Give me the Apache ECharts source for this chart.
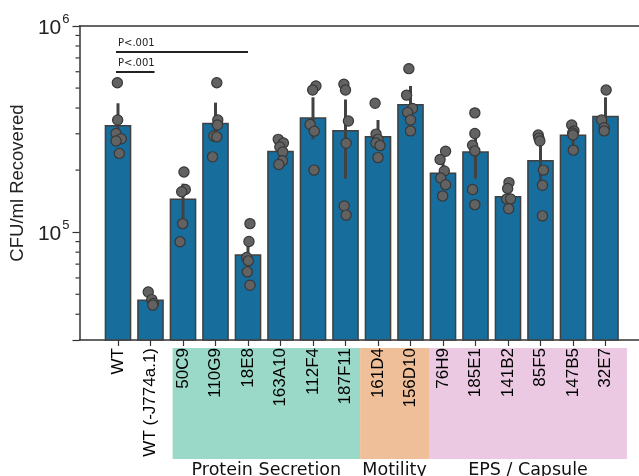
<!DOCTYPE html>
<html><head><meta charset="utf-8">
<script src="https://cdn.jsdelivr.net/npm/echarts@6/dist/echarts.min.js"></script>
<style>html,body{margin:0;padding:0;background:#fff}#c{width:639px;height:476px}</style>
</head><body><div id="c"></div>
<script>
// ---------------- data ----------------
const categories = ['WT','WT (-J774a.1)','50C9','110G9','18E8','163A10','112F4','187F11','161D4','156D10','76H9','185E1','141B2','85F5','147B5','32E7'];
const barMeans = [3.31e5,4.71e4,1.457e5,3.39e5,7.81e4,2.48e5,3.61e5,3.13e5,2.93e5,4.18e5,1.95e5,2.47e5,1.50e5,2.24e5,2.98e5,3.67e5];
const ciLow  = [2.80e5,4.50e4,1.10e5,2.74e5,6.60e4,2.30e5,2.82e5,1.82e5,2.55e5,3.63e5,1.79e5,1.82e5,1.38e5,1.72e5,2.60e5,3.25e5];
const ciHigh = [4.22e5,4.95e4,1.72e5,4.25e5,9.32e4,2.68e5,4.51e5,4.40e5,3.50e5,5.12e5,2.32e5,3.07e5,1.66e5,2.80e5,3.25e5,4.51e5];
const points = [
  [5.31e5,3.50e5,3.01e5,2.84e5,2.77e5,2.41e5],
  [5.13e4,4.71e4,4.51e4,4.43e4],
  [1.96e5,1.61e5,1.57e5,1.10e5,8.98e4],
  [5.31e5,3.50e5,3.31e5,2.93e5,2.90e5,2.32e5],
  [1.10e5,9.01e4,7.54e4,7.26e4,6.42e4,5.53e4],
  [2.82e5,2.71e5,2.59e5,2.45e5,2.22e5,2.13e5],
  [5.12e5,4.89e5,3.33e5,3.09e5,2.00e5],
  [5.22e5,4.89e5,3.46e5,2.70e5,1.34e5,1.21e5],
  [4.22e5,2.99e5,2.82e5,2.71e5,2.63e5,2.30e5],
  [6.21e5,4.62e5,3.98e5,3.81e5,3.50e5,3.10e5],
  [2.47e5,2.25e5,1.98e5,1.83e5,1.70e5,1.50e5],
  [3.79e5,3.01e5,2.64e5,2.48e5,1.61e5,1.36e5],
  [1.74e5,1.63e5,1.45e5,1.45e5,1.30e5],
  [2.96e5,2.86e5,2.77e5,2.00e5,1.69e5,1.20e5],
  [3.31e5,3.10e5,3.03e5,2.96e5,2.50e5],
  [4.89e5,3.50e5,3.21e5,3.10e5]
];
// strip-plot jitter (in category widths)
const jitter = [
  [-0.02,-0.01,-0.06,0.10,-0.06,0.04],
  [-0.07,0.04,0.09,0.07],
  [0.03,0.07,-0.04,-0.01,-0.09],
  [0.04,0.07,0.06,-0.05,0.04,-0.09],
  [0.06,0.03,-0.04,0.01,-0.02,0.06],
  [-0.07,0.09,-0.02,0.07,0.06,-0.05],
  [0.09,-0.01,-0.09,0.04,0.03],
  [-0.05,0.00,0.09,0.02,-0.04,0.02],
  [-0.09,-0.06,0.00,-0.06,0.06,0.00],
  [-0.05,-0.12,0.06,-0.09,0.00,0.00],
  [0.08,-0.09,0.04,-0.07,0.08,-0.01],
  [-0.02,-0.02,-0.09,-0.02,-0.09,-0.02],
  [0.03,-0.01,-0.04,0.08,0.02],
  [-0.07,-0.05,-0.02,0.09,0.06,0.06],
  [-0.04,0.03,-0.01,0.00,0.01],
  [0.02,-0.12,-0.04,-0.04]
];
const groupNames = ['Protein Secretion','Motility','EPS / Capsule'];
const groupFirst = [2, 8, 10];
const groupLast  = [7, 9, 15];
const sigLabels = ['P<.001','P<.001'];
const sigFrom = [0, 0];
const sigTo = [4, 1];
const sigLevel = [7.48e5, 5.98e5];
const yMajorTicks = [1e5, 1e6];
const yMinorTicks = [4e4,5e4,6e4,7e4,8e4,9e4,2e5,3e5,4e5,5e5,6e5,7e5,8e5,9e5];
const yMin = 3e4, yMax = 1e6;

// ---------------- style ----------------
const groupColors = ['#9ad8c7','#eebf99','#ebc9e2'];
const groupEdges = [[-0.32,0.45],[-0.55,0.57],[-0.43,0.66]];
const dark = '#404040';

const chart = echarts.init(document.getElementById('c'));

function xOf(api, pos) {
  const bw = api.size([1, 1], [0, 1e5])[0];
  const x0 = api.coord([0, 1e5])[0];
  return x0 + pos * bw;
}

const option = {
  animation: false,
  grid: [
    {left: 79, right: 0, top: 26, bottom: 136},
    {left: 101.75, right: 17.25, top: 26, bottom: 136}
  ],
  xAxis: [
    {gridIndex: 0, type: 'value', min: 0, max: 1, position: 'bottom',
     axisLine: {show: true, lineStyle: {color: '#333', width: 1.5}}, axisTick: {show: false},
     axisLabel: {show: false}, splitLine: {show: false}},
    {gridIndex: 0, type: 'value', min: 0, max: 1, position: 'top',
     axisLine: {show: true, lineStyle: {color: '#333', width: 1.5}}, axisTick: {show: false},
     axisLabel: {show: false}, splitLine: {show: false}},
    {gridIndex: 1, type: 'category', data: categories, position: 'bottom',
     axisLine: {show: false},
     axisTick: {show: true, alignWithLabel: true, length: 6, lineStyle: {color: '#333', width: 1.2}},
     axisLabel: {interval: 0, rotate: 90, margin: 8, fontSize: 17, color: '#000', fontFamily: 'Liberation Sans'},
     splitLine: {show: false}}
  ],
  yAxis: [
    {gridIndex: 0, type: 'log', logBase: 10, min: yMin, max: yMax,
     name: 'CFU/ml Recovered', nameLocation: 'middle', nameGap: 51,
     nameTextStyle: {fontSize: 18.5, color: '#222', fontFamily: 'Liberation Sans'},
     axisLine: {show: true, lineStyle: {color: '#333', width: 1.5}},
     axisTick: {show: true, length: 7, lineStyle: {color: '#333', width: 1.2}},
     splitLine: {show: false}, minorTick: {show: false},
     axisLabel: {
       margin: 10,
       formatter: function (v) {
         for (const t of yMajorTicks) {
           if (Math.abs(v - t) / t < 1e-6) return '{b|10}{s|' + Math.round(Math.log10(t)) + '}';
         }
         return '';
       },
       rich: {
         b: {fontSize: 21, fontFamily: 'Liberation Sans', color: '#222', lineHeight: 26, verticalAlign: 'bottom'},
         s: {fontSize: 13, fontFamily: 'Liberation Sans', color: '#222', lineHeight: 26, verticalAlign: 'top', padding: [0, 0, 0, 1]}
       }
     }},
    {gridIndex: 1, type: 'log', logBase: 10, min: yMin, max: yMax, show: false, splitLine: {show: false}}
  ],
  series: [
    // minor ticks on the y axis
    {type: 'custom', xAxisIndex: 0, yAxisIndex: 0, z: 5, silent: true,
     data: yMinorTicks.map(v => [0, v]),
     renderItem: function (params, api) {
       const p = api.coord([0, api.value(1)]);
       return {type: 'line', shape: {x1: p[0] - 4, y1: p[1], x2: p[0], y2: p[1]},
               style: {stroke: '#333', lineWidth: 1.2}};
     }},
    // bars
    {type: 'bar', xAxisIndex: 2, yAxisIndex: 1, data: barMeans, barWidth: '82%',
     itemStyle: {color: '#176d9c', borderColor: dark, borderWidth: 1.5}, z: 2},
    // error bars
    {type: 'custom', xAxisIndex: 2, yAxisIndex: 1, z: 3, silent: true,
     encode: {x: 0, y: [1, 2]},
     data: categories.map((c, i) => [i, ciLow[i], ciHigh[i]]),
     renderItem: function (params, api) {
       const i = api.value(0);
       const lo = api.coord([i, api.value(1)]);
       const hi = api.coord([i, api.value(2)]);
       return {type: 'line', shape: {x1: lo[0], y1: lo[1], x2: hi[0], y2: hi[1]},
               style: {stroke: '#424242', lineWidth: 3}};
     }},
    // strip points
    {type: 'custom', xAxisIndex: 2, yAxisIndex: 1, z: 4, silent: true,
     encode: {x: 0, y: 1},
     data: points.flatMap((arr, i) => arr.map((v, k) => [i, v, jitter[i][k]])),
     renderItem: function (params, api) {
       const i = api.value(0);
       const c = api.coord([i, api.value(1)]);
       const x = xOf(api, i + api.value(2));
       return {type: 'circle', shape: {cx: x, cy: c[1], r: 5.1},
               style: {fill: '#626262', stroke: '#383838', lineWidth: 1.2}};
     }},
    // group background boxes + names
    {type: 'custom', xAxisIndex: 2, yAxisIndex: 1, z: -1, silent: true, clip: false,
     encode: {x: 0, y: 1},
     data: groupNames.map((n, g) => [groupFirst[g], yMin]),
     renderItem: function (params, api) {
       const g = params.dataIndex;
       const xa = xOf(api, groupFirst[g] + groupEdges[g][0]);
       const xb = xOf(api, groupLast[g] + groupEdges[g][1]);
       const yb = api.coord([0, yMin])[1];
       return {type: 'group', children: [
         {type: 'rect', shape: {x: xa, y: yb + 8, width: xb - xa, height: 111},
          style: {fill: groupColors[g]}},
         {type: 'text', style: {x: (xa + xb) / 2, y: yb + 130, text: groupNames[g],
          textAlign: 'center', textVerticalAlign: 'middle', fontSize: 17.5,
          fontFamily: 'DejaVu Sans', fill: '#111'}}
       ]};
     }},
    // significance brackets
    {type: 'custom', xAxisIndex: 2, yAxisIndex: 1, z: 5, silent: true, clip: false,
     encode: {x: 0, y: 1},
     data: sigLabels.map((s, k) => [sigFrom[k], sigLevel[k]]),
     renderItem: function (params, api) {
       const k = params.dataIndex;
       const a = api.coord([sigFrom[k], sigLevel[k]]);
       const b = api.coord([sigTo[k], sigLevel[k]]);
       return {type: 'group', children: [
         {type: 'line', shape: {x1: a[0] - 2, y1: a[1], x2: b[0] + (sigTo[k] === 1 ? 4 : 0), y2: b[1]},
          style: {stroke: '#222', lineWidth: 2}},
         {type: 'text', style: {x: a[0], y: a[1] - 4, text: sigLabels[k], textAlign: 'left',
          textVerticalAlign: 'bottom', fontSize: 10, fontFamily: 'DejaVu Sans', fill: '#222'}}
       ]};
     }}
  ]
};
chart.setOption(option);
</script>
</body></html>
